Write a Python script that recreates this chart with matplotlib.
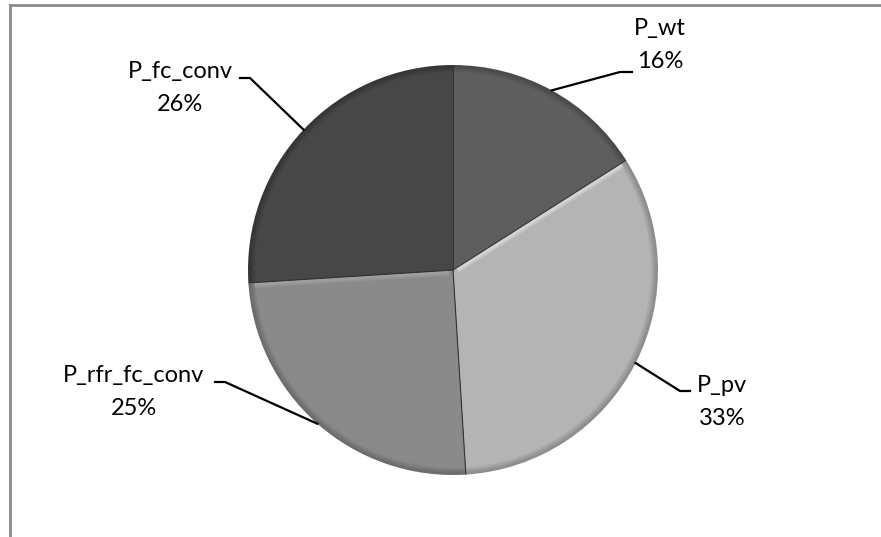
import numpy as np
import matplotlib
matplotlib.use("Agg")
import matplotlib.pyplot as plt
from matplotlib.patches import Wedge
from matplotlib.lines import Line2D

# data
labels = ['P_wt', 'P_pv', 'P_rfr_fc_conv', 'P_fc_conv']
shares = [16, 33, 25, 26]
colors = ['#5e5e5e', '#b4b4b4', '#8a8a8a', '#474747']
rim_colors = ['#4a4a4a', '#8e8e8e', '#6c6c6c', '#363636']

# label placement (pixel coords from top): x centre, baseline of first line
label_pos = [(660, 35), (722, 392), (134, 382), (180, 78)]
elbow_pts = [(620, 72), (680, 391), (225, 382), (250, 78)]
elbow_end = [(632, 72), (690, 391), (215, 382), (240, 78)]
line_gap = 33

W, H = 881, 537
cx, cy, R = 453, 270, 205

fig = plt.figure(figsize=(W / 100, H / 100), dpi=100)
ax = fig.add_axes([0, 0, 1, 1])
ax.set_xlim(0, W)
ax.set_ylim(0, H)
ax.axis('off')

def py(y):
    return H - y

to_rgb = matplotlib.colors.to_rgb

# wedges clockwise from 12 o'clock
start = 90.0
total = float(sum(shares))
mids = []
bounds = []
for val, col, rim in zip(shares, colors, rim_colors):
    span = 360.0 * val / total
    t1, t2 = start - span, start
    ax.add_patch(Wedge((cx, py(cy)), R, t1, t2, facecolor=rim, edgecolor='none'))
    # soft rim gradient
    for k, a in enumerate(np.linspace(0, 1, 6)):
        c = np.array(to_rgb(rim)) * (1 - a) + np.array(to_rgb(col)) * a
        ax.add_patch(Wedge((cx, py(cy)), R - 1.2 * (k + 1), t1, t2, facecolor=c, edgecolor='none'))
    mids.append(np.deg2rad((t1 + t2) / 2))
    bounds.append((t1, t2))
    start = t1

# bevel highlight on the upper edge of slices below a slanted seam
for i, (t1, t2) in enumerate(bounds):
    th = np.deg2rad(t2)
    if abs(np.cos(th)) < 0.2:
        continue
    # perpendicular pointing downward
    nx, ny = np.sin(th), -np.cos(th)
    if ny > 0:
        nx, ny = -nx, -ny
    lighter = np.array(to_rgb(colors[i])) * 0.5 + 0.5
    for off, alpha in [(2.0, 0.8), (4.0, 0.4)]:
        ax.plot([cx + off * nx + 4 * np.cos(th), cx + off * nx + (R - 6) * np.cos(th)],
                [py(cy) + off * ny + 4 * np.sin(th), py(cy) + off * ny + (R - 6) * np.sin(th)],
                color=lighter, lw=2, alpha=alpha, solid_capstyle='butt')

# seams
for t1, t2 in bounds:
    th = np.deg2rad(t2)
    ax.plot([cx, cx + R * np.cos(th)], [py(cy), py(cy) + R * np.sin(th)],
            color='#333333', lw=0.8, solid_capstyle='butt')

# leader lines and labels
for lab, val, m, lp, ep, ee in zip(labels, shares, mids, label_pos, elbow_pts, elbow_end):
    sx = cx + R * np.cos(m)
    sy = py(cy) + R * np.sin(m)
    ax.plot([sx, ep[0], ee[0]], [sy, py(ep[1]), py(ee[1])], color='black', lw=1.6)
    ax.text(lp[0], py(lp[1]), lab, ha='center', va='baseline', fontsize=17,
            family='Lato', color='black')
    ax.text(lp[0], py(lp[1] + line_gap), f'{val}%', ha='center', va='baseline',
            fontsize=17, family='Lato', color='black')

# chart frame (left and top edges)
fig.add_artist(Line2D([10 / W, 10 / W], [0, 1 - 5 / H], color='#8c8c8c', lw=2))
fig.add_artist(Line2D([10 / W, 1], [1 - 5 / H, 1 - 5 / H], color='#8c8c8c', lw=2))

fig.savefig('out.png', dpi=100, facecolor='white')
